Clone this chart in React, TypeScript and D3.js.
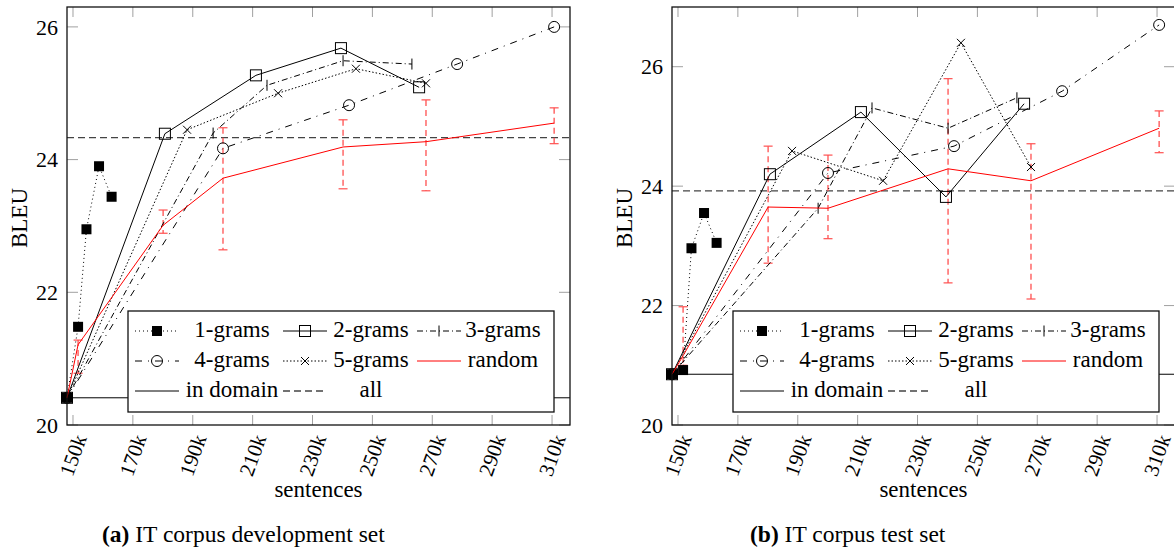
import React from 'react';
import * as d3 from 'd3';

// ---------- data ----------
const xTicks = [150, 170, 190, 210, 230, 250, 270, 290, 310];
const xTickLabels = ['150k', '170k', '190k', '210k', '230k', '250k', '270k', '290k', '310k'];
const yTicks = [20, 22, 24, 26];
const yTickLabels = ['20', '22', '24', '26'];

// sentences (thousands) per series
const x1grams = [148, 151.7, 154.5, 158.7, 162.9];
const x2grams = [148, 180.7, 211.1, 239.5, 265.6];
const x3grams = [148, 196.8, 214.8, 240.2, 263.2];
const x4grams = [148, 200.1, 242.2, 278.3, 310.7];
const x5grams = [148, 188.1, 218.5, 244.5, 267.9];
const xRandom = [148, 151.7, 180.1, 200.1, 240.2, 267.9, 310.7];

// (a) development set BLEU
const dev1grams = [20.41, 21.48, 22.95, 23.9, 23.44];
const dev2grams = [20.41, 24.39, 25.27, 25.68, 25.09];
const dev3grams = [20.41, 24.4, 25.12, 25.49, 25.44];
const dev4grams = [20.41, 24.17, 24.82, 25.44, 26.0];
const dev5grams = [20.41, 24.45, 25.0, 25.37, 25.15];
const devRandom = [20.41, 21.21, 23.01, 23.72, 24.19, 24.27, 24.55];
const devRandomHi = [20.41, 21.28, 23.24, 24.48, 24.6, 24.9, 24.78];
const devRandomLo = [20.41, 20.78, 22.89, 22.64, 23.56, 23.53, 24.24];
const devInDomain = 20.41;
const devAll = 24.33;

// (b) test set BLEU
const test1grams = [20.85, 20.92, 22.96, 23.55, 23.05];
const test2grams = [20.85, 24.2, 25.24, 23.82, 25.38];
const test3grams = [20.85, 23.63, 25.31, 24.97, 25.48];
const test4grams = [20.85, 24.22, 24.67, 25.59, 26.7];
const test5grams = [20.85, 24.59, 24.09, 26.4, 24.32];
const testRandom = [20.85, 21.16, 23.65, 23.63, 24.29, 24.09, 24.97];
const testRandomHi = [20.85, 21.98, 24.67, 24.52, 25.8, 24.71, 25.26];
const testRandomLo = [20.85, 21.0, 22.71, 23.12, 22.38, 22.11, 24.56];
const testInDomain = 20.85;
const testAll = 23.92;

const seriesNames = ['1-grams', '2-grams', '3-grams', '4-grams', '5-grams', 'random', 'in domain', 'all'];

// ---------- styles ----------
const FONT = "'Liberation Serif', 'Times New Roman', serif";
const styles: Record<string, { dash?: string; color: string; width: number; marker?: string }> = {
  '1-grams': { dash: '1,3', color: '#000', width: 1, marker: 'fsquare' },
  '2-grams': { color: '#000', width: 1, marker: 'square' },
  '3-grams': { dash: '6,3,1,3', color: '#000', width: 1, marker: 'bar' },
  '4-grams': { dash: '7,6,1,6', color: '#000', width: 1, marker: 'circle' },
  '5-grams': { dash: '1.5,2', color: '#000', width: 1, marker: 'cross' },
  random: { color: '#ff0000', width: 1 },
  'in domain': { color: '#000', width: 1 },
  all: { dash: '7,4', color: '#444', width: 1.3 },
};

function Marker({ type, x, y }: { type?: string; x: number; y: number }) {
  if (!type) return null;
  if (type === 'fsquare') return <rect x={x - 5} y={y - 5} width={10} height={10} fill="#000" />;
  if (type === 'square')
    return <rect x={x - 5.5} y={y - 5.5} width={11} height={11} fill="none" stroke="#000" strokeWidth={1} />;
  if (type === 'circle') return <circle cx={x} cy={y} r={5.5} fill="none" stroke="#000" strokeWidth={1} />;
  if (type === 'bar') return <line x1={x} x2={x} y1={y - 5.5} y2={y + 5.5} stroke="#000" strokeWidth={1} />;
  if (type === 'cross')
    return (
      <g stroke="#000" strokeWidth={1}>
        <line x1={x - 4} x2={x + 4} y1={y - 4} y2={y + 4} />
        <line x1={x - 4} x2={x + 4} y1={y + 4} y2={y - 4} />
      </g>
    );
  return null;
}

type PanelProps = {
  left: number;
  yMax: number;
  ys: number[][];
  rnd: number[];
  rndHi: number[];
  rndLo: number[];
  inDomain: number;
  all: number;
  caption: string;
  captionX: number;
  ylabelX: number;
};

function Panel(p: PanelProps) {
  const W = 503;
  const top = 7;
  const bottom = 425;
  const xs = d3.scaleLinear().domain([148, 316]).range([p.left, p.left + W]);
  const ys = d3.scaleLinear().domain([20, p.yMax]).range([bottom, top]);
  const line = d3
    .line<[number, number]>()
    .x((d) => xs(d[0]))
    .y((d) => ys(d[1]));
  const xsArr = [x1grams, x2grams, x3grams, x4grams, x5grams];
  const ngram = seriesNames.slice(0, 5).map((name, i) => ({
    name,
    pts: xsArr[i].map((xv, j) => [xv, p.ys[i][j]] as [number, number]),
  }));
  const rndPts = xRandom.map((xv, j) => [xv, p.rnd[j]] as [number, number]);
  const right = p.left + W;

  // legend
  const lgL = p.left + 61;
  const lgR = p.left + 487;
  const lgT = 311;
  const lgB = 412;
  const rowBase = [337, 367, 397];
  const symX = [lgL + 7, lgL + 155, lgL + 289];
  const txtC = [lgL + 104, lgL + 243, lgL + 375];
  const legendItems = [
    ['1-grams', 0, 0],
    ['2-grams', 0, 1],
    ['3-grams', 0, 2],
    ['4-grams', 1, 0],
    ['5-grams', 1, 1],
    ['random', 1, 2],
    ['in domain', 2, 0],
    ['all', 2, 1],
  ] as [string, number, number][];

  const [capA, capB] = p.caption.split('|');
  return (
    <g fontFamily={FONT}>
      {/* ticks */}
      <g stroke="#a0a0a0" strokeWidth={1}>
        {xTicks.map((t) => (
          <g key={'xt' + t}>
            <line x1={xs(t)} x2={xs(t)} y1={bottom} y2={bottom - 10} />
            <line x1={xs(t)} x2={xs(t)} y1={top} y2={top + 10} />
          </g>
        ))}
        {yTicks.map((t) => (
          <g key={'yt' + t}>
            <line x1={p.left} x2={p.left + 11} y1={ys(t)} y2={ys(t)} />
            <line x1={right} x2={right - 11} y1={ys(t)} y2={ys(t)} />
          </g>
        ))}
      </g>
      {/* reference lines */}
      <line x1={p.left} x2={right} y1={ys(p.inDomain)} y2={ys(p.inDomain)} stroke="#000" strokeWidth={1} />
      <line
        x1={p.left}
        x2={right}
        y1={ys(p.all)}
        y2={ys(p.all)}
        stroke={styles.all.color}
        strokeWidth={styles.all.width}
        strokeDasharray={styles.all.dash}
      />
      {/* error bars */}
      <g>
        {xRandom.map((xv, j) =>
          j === 0 ? null : (
            <g key={'eb' + j} stroke="#ff5050">
              <line
                x1={xs(xv)}
                x2={xs(xv)}
                y1={ys(p.rndHi[j])}
                y2={ys(p.rndLo[j])}
                strokeWidth={1.3}
                strokeDasharray="6,4"
              />
              <line x1={xs(xv) - 4.5} x2={xs(xv) + 4.5} y1={ys(p.rndHi[j])} y2={ys(p.rndHi[j])} strokeWidth={1.2} />
              <line x1={xs(xv) - 4.5} x2={xs(xv) + 4.5} y1={ys(p.rndLo[j])} y2={ys(p.rndLo[j])} strokeWidth={1.2} />
            </g>
          )
        )}
      </g>
      {/* n-gram series */}
      {ngram.map((s) => (
        <g key={s.name}>
          <path
            d={line(s.pts) || ''}
            fill="none"
            stroke={styles[s.name].color}
            strokeWidth={styles[s.name].width}
            strokeDasharray={styles[s.name].dash}
          />
          {s.pts.map((d, k) => (
            <Marker key={k} type={styles[s.name].marker} x={xs(d[0])} y={ys(d[1])} />
          ))}
        </g>
      ))}
      <path d={line(rndPts) || ''} fill="none" stroke="#ff0000" strokeWidth={1} />
      {/* frame */}
      <rect x={p.left} y={top} width={W} height={bottom - top} fill="none" stroke="#111" strokeWidth={1.3} />
      {/* legend */}
      <rect x={lgL} y={lgT} width={lgR - lgL} height={lgB - lgT} fill="#fff" stroke="#111" strokeWidth={1.3} />
      {legendItems.map(([name, r, c]) => {
        const st = styles[name];
        const sy = rowBase[r] - 6;
        return (
          <g key={'lg' + name}>
            <line
              x1={symX[c]}
              x2={symX[c] + 44}
              y1={sy}
              y2={sy}
              stroke={st.color}
              strokeWidth={st.width}
              strokeDasharray={st.dash}
            />
            <Marker type={st.marker} x={symX[c] + 22} y={sy} />
            <text x={txtC[c]} y={rowBase[r]} textAnchor="middle" fontSize={23} fill="#000">
              {name}
            </text>
          </g>
        );
      })}
      {/* tick labels */}
      {yTicks.map((t, i) => (
        <text key={'yl' + t} x={p.left - 9} y={ys(t)} dy="0.35em" textAnchor="end" fontSize={22} fill="#000">
          {yTickLabels[i]}
        </text>
      ))}
      {xTicks.map((t, i) => (
        <text
          key={'xl' + t}
          transform={`translate(${xs(t) + 14},${bottom + 13}) rotate(-70)`}
          textAnchor="end"
          fontSize={21}
          fill="#000"
        >
          {xTickLabels[i]}
        </text>
      ))}
      <text x={p.left + W / 2} y={497} textAnchor="middle" fontSize={23} fill="#000">
        sentences
      </text>
      <text transform={`translate(${p.ylabelX},218) rotate(-90)`} textAnchor="middle" fontSize={23} fill="#000">
        BLEU
      </text>
      <text x={p.captionX} y={542} fontSize={23.5} fill="#000">
        <tspan fontWeight="bold">{capA}</tspan>
        <tspan>{capB}</tspan>
      </text>
    </g>
  );
}

export default function App() {
  return (
    <svg
      width={1174}
      height={549}
      style={{ position: 'absolute', left: 0, top: 0, background: '#fff' }}
    >
      <rect x={0} y={0} width={1174} height={549} fill="#fff" />
      <Panel
        left={67}
        yMax={26.3}
        ys={[dev1grams, dev2grams, dev3grams, dev4grams, dev5grams]}
        rnd={devRandom}
        rndHi={devRandomHi}
        rndLo={devRandomLo}
        inDomain={devInDomain}
        all={devAll}
        caption="(a)| IT corpus development set"
        captionX={102}
        ylabelX={27}
      />
      <Panel
        left={672}
        yMax={27}
        ys={[test1grams, test2grams, test3grams, test4grams, test5grams]}
        rnd={testRandom}
        rndHi={testRandomHi}
        rndLo={testRandomLo}
        inDomain={testInDomain}
        all={testAll}
        caption="(b)| IT corpus test set"
        captionX={750}
        ylabelX={632}
      />
    </svg>
  );
}
